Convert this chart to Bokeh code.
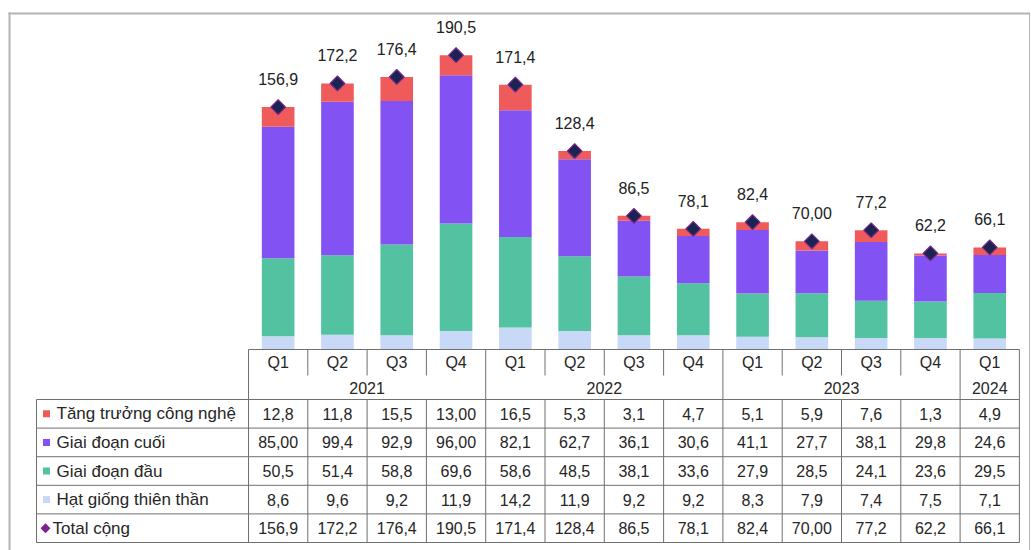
import math
from bokeh.plotting import figure
from bokeh.models import Range1d, ColumnDataSource
from bokeh.core.properties import value
from bokeh.embed import file_html
from bokeh.resources import INLINE

# ---------------- data ----------------
quarters = ["Q1", "Q2", "Q3", "Q4", "Q1", "Q2", "Q3", "Q4", "Q1", "Q2", "Q3", "Q4", "Q1"]
years = ["2021", "2022", "2023", "2024"]
year_spans = [4, 4, 4, 1]
series_names = ["Tăng trưởng công nghệ", "Giai đoạn cuối", "Giai đoạn đầu", "Hạt giống thiên thần"]
tang_truong = [12.8, 11.8, 15.5, 13.0, 16.5, 5.3, 3.1, 4.7, 5.1, 5.9, 7.6, 1.3, 4.9]
giai_doan_cuoi = [85.0, 99.4, 92.9, 96.0, 82.1, 62.7, 36.1, 30.6, 41.1, 27.7, 38.1, 29.8, 24.6]
giai_doan_dau = [50.5, 51.4, 58.8, 69.6, 58.6, 48.5, 38.1, 33.6, 27.9, 28.5, 24.1, 23.6, 29.5]
hat_giong = [8.6, 9.6, 9.2, 11.9, 14.2, 11.9, 9.2, 9.2, 8.3, 7.9, 7.4, 7.5, 7.1]
total = [156.9, 172.2, 176.4, 190.5, 171.4, 128.4, 86.5, 78.1, 82.4, 70.0, 77.2, 62.2, 66.1]
total_name = "Total cộng"

colors = {"tang": "#EF5B5B", "cuoi": "#8352F2", "dau": "#52C2A0", "hat": "#C8D8F7"}


def fmt(v):
    s = "%.2f" % v if float(v).is_integer() else "%.1f" % v
    return s.replace(".", ",")


# ---------------- geometry (screen px -> data units) ----------------
W, H = 1031, 550
COL0 = 248.0      # left edge of first data column (px)
COLW = 59.3       # column width (px)
BASE = 349.0      # bar baseline (px)
PXU = 1.545       # px per value unit


def ux(sx):
    return (sx - COL0) / COLW - 0.5


def uy(sy):
    return (BASE - sy) / PXU


p = figure(width=W, height=H, output_backend="svg", toolbar_location=None,
           x_range=Range1d(ux(0), ux(W)),
           y_range=Range1d(uy(H), uy(0)),
           min_border=0)
p.xaxis.visible = False
p.yaxis.visible = False
p.grid.visible = False
p.outline_line_color = None
p.background_fill_color = "white"
p.border_fill_color = "white"

FONT = value("Liberation Sans")
n = len(quarters)
xs = list(range(n))
src = ColumnDataSource(dict(x=xs, hat=hat_giong, dau=giai_doan_dau, cuoi=giai_doan_cuoi,
                            tang=tang_truong, total=total,
                            lbl=[fmt(v) for v in total]))

p.vbar_stack(["hat", "dau", "cuoi", "tang"], x="x", width=0.55, source=src,
             color=[colors["hat"], colors["dau"], colors["cuoi"], colors["tang"]],
             line_width=0)

p.scatter("x", "total", source=src, marker="square", angle=math.pi / 4, size=10.5,
          fill_color="#1B2350", line_color="#7A2A8C", line_width=1.2)

p.text("x", "total", text="lbl", source=src, y_offset=-28,
       text_align="center", text_baseline="middle",
       text_font=FONT, text_font_size="16px", text_color="#222222")

# ---------------- outer frame ----------------
FRAME = "#B4B4B4"
p.segment(x0=[ux(8), ux(9), ux(1029)], y0=[uy(13), uy(12), uy(12)],
          x1=[ux(1029), ux(9), ux(1029)], y1=[uy(13), uy(H), uy(H)],
          line_color=FRAME, line_width=[2, 2, 1])

# ---------------- table ----------------
LINE = "#707070"
TXT = "#262626"
HDR_TOP = 349.0
Q_BOT = 375.0
YR_BOT = 399.0
ROW_H = 28.6
LBL_L = 36.0
n_rows = 5
TAB_BOT = YR_BOT + ROW_H * n_rows
RIGHT = COL0 + COLW * n

x0s, y0s, x1s, y1s = [], [], [], []


def seg(a, b, c, d):
    x0s.append(ux(a)); y0s.append(uy(b)); x1s.append(ux(c)); y1s.append(uy(d))


seg(COL0, HDR_TOP, RIGHT, HDR_TOP)
for k in range(n_rows + 1):
    yy = YR_BOT + ROW_H * k
    seg(LBL_L, yy, RIGHT, yy)
seg(LBL_L, YR_BOT, LBL_L, TAB_BOT)
seg(COL0, HDR_TOP, COL0, TAB_BOT)
seg(RIGHT, HDR_TOP, RIGHT, TAB_BOT)
year_edges = []
acc = 0
for s in year_spans:
    acc += s
    year_edges.append(acc)
for i in range(1, n):
    xx = COL0 + COLW * i
    if i in year_edges:
        seg(xx, HDR_TOP, xx, TAB_BOT)
    else:
        seg(xx, HDR_TOP, xx, Q_BOT)
        seg(xx, YR_BOT, xx, TAB_BOT)
p.segment(x0=x0s, y0=y0s, x1=x1s, y1=y1s, line_color=LINE, line_width=1)

# header texts
p.text(x=xs, y=[uy(362)] * n, text=quarters, text_align="center", text_baseline="middle",
       text_font=FONT, text_font_size="16px", text_color=TXT)
yx = []
start = 0
for s in year_spans:
    yx.append(start + (s - 1) / 2)
    start += s
p.text(x=yx, y=[uy(387)] * len(years), text=years, text_align="center", text_baseline="middle",
       text_font=FONT, text_font_size="16px", text_color=TXT)

# data rows
rows = [tang_truong, giai_doan_cuoi, giai_doan_dau, hat_giong, total]
row_names = series_names + [total_name]
row_colors = [colors["tang"], colors["cuoi"], colors["dau"], colors["hat"], "#7B2390"]
cx, cy, ct = [], [], []
for r, vals in enumerate(rows):
    yc = uy(YR_BOT + ROW_H * (r + 0.5))
    for i, v in enumerate(vals):
        cx.append(i); cy.append(yc); ct.append(fmt(v))
p.text(x=cx, y=cy, text=ct, text_align="center", text_baseline="middle",
       text_font=FONT, text_font_size="16px", text_color=TXT)

ly = [uy(YR_BOT + ROW_H * (r + 0.5)) for r in range(n_rows)]
p.text(x=[ux(56)] * 4 + [ux(52)], y=ly, text=row_names, text_align="left", text_baseline="middle",
       text_font=FONT, text_font_size="17px", text_color=TXT)
p.scatter(x=[ux(46)] * 4, y=ly[:4], marker="square", size=7, fill_color=row_colors[:4], line_width=0)
p.scatter(x=[ux(45)], y=ly[4:], marker="square", angle=math.pi / 4, size=7,
          fill_color=row_colors[4], line_width=0)

open("out.html", "w").write(file_html(p, INLINE))
